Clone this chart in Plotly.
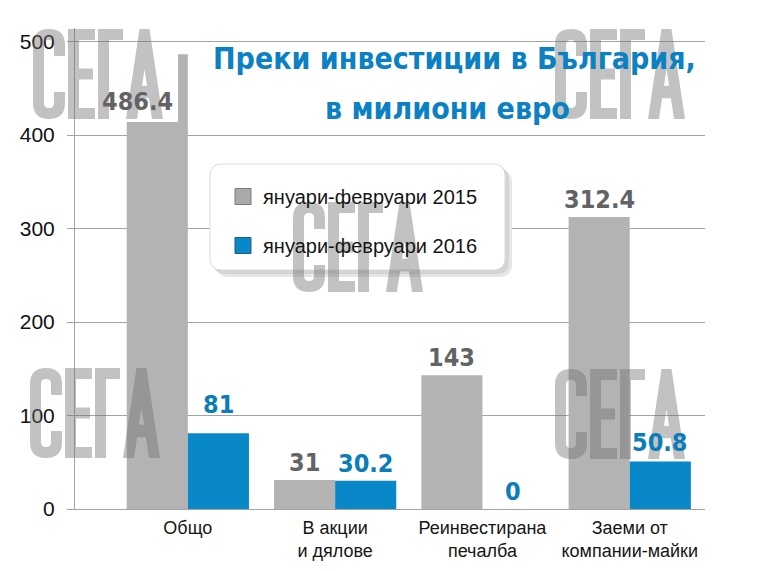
import plotly.graph_objects as go

# ---------------- data ----------------
categories = ["Общо", "В акции<br>и дялове", "Реинвестирана<br>печалба", "Заеми от<br>компании-майки"]
series_names = ["януари-февруари 2015", "януари-февруари 2016"]
values_2015 = [486.4, 31, 143, 312.4]
values_2016 = [81, 30.2, 0, 50.8]
labels_2015 = ["486.4", "31", "143", "312.4"]
labels_2016 = ["81", "30.2", "0", "50.8"]
y_ticks = [0, 100, 200, 300, 400, 500]
title_lines = ["Преки инвестиции в България,", "в милиони евро"]

# ---------------- style ----------------
W, H = 760, 571          # window size
O = 8                    # default page (body) margin of the html page
L, R, T, B = 75, 705, 28, 509   # plot area in window pixels
X_RANGE = [-0.766, 3.511]
Y_RANGE = [0, 514.5]
BARGAP = 0.17
GRAY = "#b3b3b3"
BLUE = "#0888c8"
GRAY_TXT = "#626365"
BLUE_TXT = "#0b7db8"
TITLE_BLUE = "#0b80c3"
GRID = "#a3a3a3"
VAL_FONT = "DejaVu Sans Condensed, DejaVu Sans"
SANS = "Liberation Sans, Arial, sans-serif"
lift_2015 = [0, 0, 0, 0]
lift_2016 = [11, 0, 0, 2]


def px(xp):
    return (xp - L) / (R - L)


def py(yp):
    return (B - yp) / (B - T)


def P(x, y):
    return f"{px(x):.5f},{py(y):.5f}"


cat_px = (R - L) / (X_RANGE[1] - X_RANGE[0])
bar_px = cat_px * (1 - BARGAP) / 2

fig = go.Figure()
fig.add_trace(go.Bar(x=list(range(len(categories))), y=values_2015, name=series_names[0],
                     marker=dict(color=GRAY, line=dict(width=0)), showlegend=False))
fig.add_trace(go.Bar(x=list(range(len(categories))), y=values_2016, name=series_names[1],
                     marker=dict(color=BLUE, line=dict(width=0)), showlegend=False))
# legend entries
fig.add_trace(go.Scatter(x=[None], y=[None], mode="markers", name=series_names[0], legendgroup="a",
                         marker=dict(symbol="square", size=16, color="#a9a9a9", line=dict(color="#7a7a7a", width=1))))
fig.add_trace(go.Scatter(x=[None], y=[None], mode="markers", name=series_names[1], legendgroup="b",
                         marker=dict(symbol="square", size=16, color=BLUE, line=dict(color="#2a5a7a", width=1))))

VSIZE = 25
annotations = []
for i, (v, s) in enumerate(zip(values_2015, labels_2015)):
    if i == 0:
        annotations.append(dict(x=i, y=v, xref="x", yref="y", text=s, showarrow=False,
                                xshift=-bar_px / 2 - 20, yshift=-47, yanchor="middle",
                                font=dict(family=VAL_FONT, size=VSIZE, color=GRAY_TXT, weight="bold")))
    else:
        annotations.append(dict(x=i, y=v, xref="x", yref="y", text=s, showarrow=False,
                                xshift=-bar_px / 2, yshift=1 + lift_2015[i], yanchor="bottom",
                                font=dict(family=VAL_FONT, size=VSIZE, color=GRAY_TXT, weight="bold")))
for i, (v, s) in enumerate(zip(values_2016, labels_2016)):
    annotations.append(dict(x=i, y=v, xref="x", yref="y", text=s, showarrow=False,
                            xshift=bar_px / 2, yshift=1 + lift_2016[i], yanchor="bottom",
                            font=dict(family=VAL_FONT, size=VSIZE, color=BLUE_TXT, weight="bold")))

annotations.append(dict(x=px(454), y=py(59), xref="paper", yref="paper", text=title_lines[0],
                        showarrow=False, xanchor="center", yanchor="middle",
                        font=dict(family="DejaVu Sans Condensed, DejaVu Sans", size=30,
                                  color=TITLE_BLUE, weight="bold")))
annotations.append(dict(x=px(447), y=py(108), xref="paper", yref="paper", text=title_lines[1],
                        showarrow=False, xanchor="center", yanchor="middle",
                        font=dict(family="DejaVu Sans Condensed, DejaVu Sans", size=30,
                                  color=TITLE_BLUE, weight="bold")))


# ---------------- decorative shapes ----------------
def rounded_rect(x0, y0, x1, y1, r):
    return (f"M {P(x0 + r, y0)} L {P(x1 - r, y0)} Q {P(x1, y0)} {P(x1, y0 + r)} "
            f"L {P(x1, y1 - r)} Q {P(x1, y1)} {P(x1 - r, y1)} L {P(x0 + r, y1)} "
            f"Q {P(x0, y1)} {P(x0, y1 - r)} L {P(x0, y0 + r)} Q {P(x0, y0)} {P(x0 + r, y0)} Z")


def watermark_path(ox, oy, h=90, t=11):
    def pt(x, y):
        return P(ox + x, oy + y)
    parts = []
    # С
    w = 32
    rv = 16
    parts.append(
        f"M {pt(w, 0.3*h)} L {pt(w, rv)} Q {pt(w, 0)} {pt(w/2, 0)} Q {pt(0, 0)} {pt(0, rv)} "
        f"L {pt(0, h-rv)} Q {pt(0, h)} {pt(w/2, h)} Q {pt(w, h)} {pt(w, h-rv)} L {pt(w, 0.7*h)} "
        f"L {pt(w-t, 0.7*h)} L {pt(w-t, h-rv)} Q {pt(w-t, h-t)} {pt(w/2, h-t)} Q {pt(t, h-t)} {pt(t, h-rv)} "
        f"L {pt(t, rv)} Q {pt(t, t)} {pt(w/2, t)} Q {pt(w-t, t)} {pt(w-t, rv)} L {pt(w-t, 0.3*h)} Z")
    x = w + 3
    # Е
    w = 27
    parts.append(
        f"M {pt(x, 0)} L {pt(x+w, 0)} L {pt(x+w, t)} L {pt(x+t, t)} L {pt(x+t, h/2-t/2)} "
        f"L {pt(x+w-2, h/2-t/2)} L {pt(x+w-2, h/2+t/2)} L {pt(x+t, h/2+t/2)} L {pt(x+t, h-t)} "
        f"L {pt(x+w, h-t)} L {pt(x+w, h)} L {pt(x, h)} Z")
    x += w + 3
    # Г
    w = 25
    parts.append(
        f"M {pt(x, 0)} L {pt(x+w, 0)} L {pt(x+w, t)} L {pt(x+t, t)} L {pt(x+t, h)} L {pt(x, h)} Z")
    x += w + 3
    # А
    w = 37
    s = (0.5 * w - 5) / h
    top_l, top_r = 0.5 * w - 5, 0.5 * w + 5
    parts.append(
        f"M {pt(x+top_l, 0)} L {pt(x+top_r, 0)} L {pt(x+w, h)} L {pt(x+w-t, h)} "
        f"L {pt(x+w-t-(h-0.77*h)*s, 0.77*h)} L {pt(x+t+(h-0.77*h)*s, 0.77*h)} L {pt(x+t, h)} L {pt(x, h)} Z")
    yb = 0.63 * h
    xr = w - t - (h - yb) * s
    xl = t + (h - yb) * s
    apex = h - (w - 2 * t) / (2 * s)
    parts.append(f"M {pt(x+w/2, apex)} L {pt(x+xr, yb)} L {pt(x+xl, yb)} Z")
    return " ".join(parts)


shapes = []
# legend shadow + box
shapes.append(dict(type="path", path=rounded_rect(216, 170, 512, 277, 13), xref="paper", yref="paper",
                   fillcolor="#e6e6e6", line=dict(width=0), layer="above"))
shapes.append(dict(type="path", path=rounded_rect(213, 167, 509, 274, 13), xref="paper", yref="paper",
                   fillcolor="#d4d4d4", line=dict(width=0), layer="above"))
shapes.append(dict(type="path", path=rounded_rect(210, 164, 505, 270, 12), xref="paper", yref="paper",
                   fillcolor="white", line=dict(color="#dcdcdc", width=1), layer="above"))
# white panel behind first label
shapes.append(dict(type="rect", x0=px(108), x1=px(178), y0=py(122), y1=py(54), xref="paper", yref="paper",
                   fillcolor="white", line=dict(width=0), layer="above"))
# watermarks
for (ox, oy) in [(33, 29), (555, 29), (293, 202), (30, 368), (555, 369)]:
    shapes.append(dict(type="path", path=watermark_path(ox, oy), xref="paper", yref="paper",
                       fillcolor="#6e6e6e", opacity=0.42, line=dict(width=0), layer="above",
                       fillrule="evenodd"))

fig.update_layout(
    width=W - 2 * O, height=H - 2 * O,
    margin=dict(l=L - O, r=(W - O) - R, t=T - O, b=(H - O) - B, autoexpand=False),
    paper_bgcolor="white", plot_bgcolor="white",
    barmode="group", bargap=BARGAP, bargroupgap=0,
    font=dict(family=SANS, color="#111111"),
    showlegend=True,
    legend=dict(x=px(223), y=py(177), xanchor="left", yanchor="top",
                bgcolor="rgba(0,0,0,0)", borderwidth=0, traceorder="grouped", tracegroupgap=20,
                font=dict(family=SANS, size=20, color="#151515")),
    xaxis=dict(range=X_RANGE, tickmode="array", tickvals=list(range(len(categories))), ticktext=categories,
               tickangle=0, automargin=False,
               showgrid=False, showline=True, linecolor=GRID, linewidth=1, ticks="", zeroline=False,
               tickfont=dict(family=SANS, size=18, color="#151515"), ticklabelstandoff=2),
    yaxis=dict(range=Y_RANGE, tickmode="array", tickvals=y_ticks, showgrid=True, gridcolor=GRID, gridwidth=1,
               automargin=False,
               showline=True, linecolor=GRID, linewidth=1, ticks="outside", ticklen=7, tickcolor=GRID,
               zeroline=False, tickfont=dict(family=SANS, size=21, color="#111111"), ticklabelstandoff=8),
    annotations=annotations,
    shapes=shapes,
)

fig.write_html("out.html")
